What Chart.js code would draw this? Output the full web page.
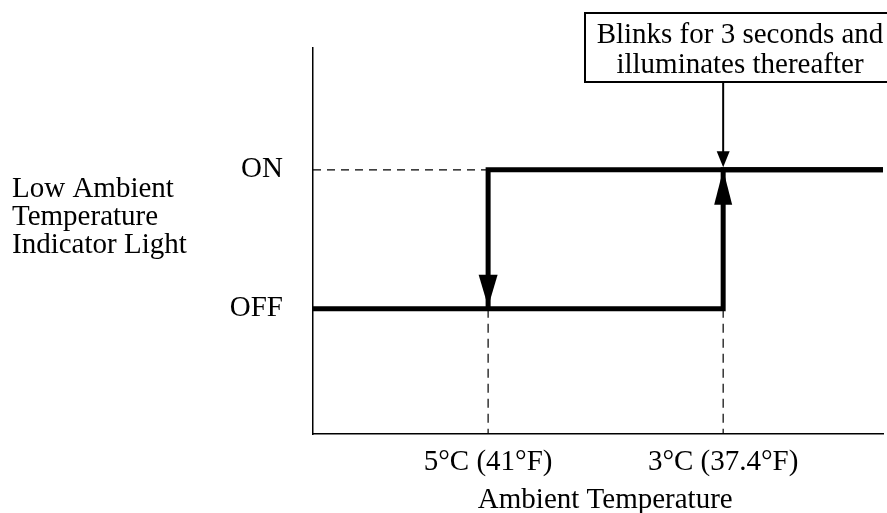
<!DOCTYPE html>
<html lang="en">
<head>
    <meta charset="UTF-8">
    <title>Low Ambient Temperature Indicator Light</title>
    <style>
        body {
            margin: 0;
            background-color: #fff;
            overflow: hidden;
        }
    </style>
</head>
<body>
    <canvas id="chart" width="887" height="513"></canvas>

    <script src="https://cdn.jsdelivr.net/npm/chart.js"></script>

    <script>
      // light states on the y axis
      const stateValues = [0, 1];
      const stateLabels = ['OFF', 'ON'];

      // switching temperatures on the x axis (axis runs from warm to cold)
      const thresholdTemps = [5, 3];
      const thresholdLabels = ['5°C (41°F)', '3°C (37.4°F)'];
      const tempRange = [1.64, 6.49];

      // path while temperature is falling: off until 3°C, then on
      const coolingTemps = [6.49, 3, 3, 1.64];
      const coolingStates = [0, 0, 1, 1];

      // path while temperature is rising: on until 5°C, then off
      const warmingTemps = [1.64, 5, 5];
      const warmingStates = [1, 1, 0];

      const yLabelLines = ['Low Ambient', 'Temperature', 'Indicator Light'];
      const noteLines = ['Blinks for 3 seconds and', 'illuminates thereafter'];
      const xTitle = '\u00a0\u00a0Ambient Temperature';

      const FONT = '"Liberation Serif", "Times New Roman", serif';

      function toPoints(xs, ys) {
          return xs.map((x, i) => ({ x: x, y: ys[i] }));
      }

      function triangle(ctx, x, tipY, len, half, dir) {
          ctx.beginPath();
          ctx.moveTo(x, tipY);
          ctx.lineTo(x - half, tipY - dir * len);
          ctx.lineTo(x + half, tipY - dir * len);
          ctx.closePath();
          ctx.fill();
      }

      const extras = {
          id: 'extras',
          afterDraw(chart) {
              const ctx = chart.ctx;
              const xs = chart.scales.x;
              const ys = chart.scales.y;
              const onY = ys.getPixelForValue(stateValues[1]);
              const offY = ys.getPixelForValue(stateValues[0]);
              const x5 = xs.getPixelForValue(thresholdTemps[0]);
              const x3 = xs.getPixelForValue(thresholdTemps[1]);

              ctx.save();
              ctx.fillStyle = '#000';
              ctx.strokeStyle = '#000';

              // arrow heads on the thick path
              triangle(ctx, x5, offY - 2, 32, 9.5, 1);
              triangle(ctx, x3, onY, 35, 9, -1);

              // note box and its arrow
              const boxTop = 13, boxBottom = 82;
              ctx.lineWidth = 2;
              ctx.strokeRect(585, boxTop, 320, boxBottom - boxTop);
              ctx.beginPath();
              ctx.moveTo(x3, boxBottom);
              ctx.lineTo(x3, onY - 12);
              ctx.stroke();
              triangle(ctx, x3, onY - 2.5, 16, 6.5, 1);

              ctx.font = '29px ' + FONT;
              ctx.textAlign = 'center';
              ctx.textBaseline = 'alphabetic';
              ctx.fillText(noteLines[0], 740, 42.5);
              ctx.fillText(noteLines[1], 740, 72.5);

              // horizontal y-axis label
              ctx.textAlign = 'left';
              yLabelLines.forEach((line, i) => {
                  ctx.fillText(line, 12, 197 + i * 28);
              });
              ctx.restore();
          }
      };

      new Chart(document.getElementById('chart').getContext('2d'), {
          type: 'scatter',
          data: {
              datasets: [
                  {
                      label: 'Cooling',
                      data: toPoints(coolingTemps, coolingStates),
                      showLine: true,
                      borderColor: '#000',
                      borderWidth: 5,
                      borderJoinStyle: 'miter',
                      pointRadius: 0,
                      clip: false
                  },
                  {
                      label: 'Warming',
                      data: toPoints(warmingTemps, warmingStates),
                      showLine: true,
                      borderColor: '#000',
                      borderWidth: 5,
                      borderJoinStyle: 'miter',
                      pointRadius: 0,
                      clip: false
                  },
                  {
                      label: 'ON guide',
                      data: toPoints([tempRange[1], thresholdTemps[0]], [stateValues[1], stateValues[1]]),
                      showLine: true,
                      borderColor: '#000',
                      borderWidth: 1.2,
                      borderDash: [8, 6],
                      pointRadius: 0
                  },
                  {
                      label: '5C guide',
                      data: toPoints([thresholdTemps[0], thresholdTemps[0]], [stateValues[0], -0.9]),
                      showLine: true,
                      borderColor: '#000',
                      borderWidth: 1.2,
                      borderDash: [9, 6],
                      pointRadius: 0
                  },
                  {
                      label: '3C guide',
                      data: toPoints([thresholdTemps[1], thresholdTemps[1]], [stateValues[0], -0.9]),
                      showLine: true,
                      borderColor: '#000',
                      borderWidth: 1.2,
                      borderDash: [9, 6],
                      pointRadius: 0
                  }
              ]
          },
          options: {
              responsive: false,
              animation: false,
              devicePixelRatio: 1,
              layout: {
                  padding: { top: 45, right: 4, left: 0, bottom: 0 }
              },
              plugins: {
                  legend: { display: false },
                  tooltip: { enabled: false }
              },
              scales: {
                  x: {
                      type: 'linear',
                      reverse: true,
                      min: tempRange[0],
                      max: tempRange[1],
                      grid: { display: false, drawTicks: false },
                      border: { display: true, color: '#000', width: 1.5 },
                      afterBuildTicks: (scale) => {
                          scale.ticks = thresholdTemps.map(v => ({ value: v }));
                      },
                      afterFit: (scale) => { scale.height = 79; },
                      ticks: {
                          autoSkip: false,
                          maxRotation: 0,
                          padding: 11,
                          color: '#000',
                          font: { family: FONT, size: 29 },
                          callback: (value) => thresholdLabels[thresholdTemps.indexOf(value)]
                      },
                      title: {
                          display: true,
                          text: xTitle,
                          color: '#000',
                          padding: 0,
                          font: { family: FONT, size: 29, lineHeight: 0.85 }
                      }
                  },
                  y: {
                      type: 'linear',
                      min: -0.9,
                      max: 1.88,
                      grid: { display: false, drawTicks: false },
                      border: { display: true, color: '#000', width: 1.5 },
                      afterBuildTicks: (scale) => {
                          scale.ticks = stateValues.map(v => ({ value: v }));
                      },
                      afterFit: (scale) => { scale.width = 313; },
                      ticks: {
                          padding: 30,
                          color: '#000',
                          font: { family: FONT, size: 29 },
                          callback: (value) => stateLabels[stateValues.indexOf(value)]
                      }
                  }
              }
          },
          plugins: [extras]
      });
    </script>
</body>
</html>
